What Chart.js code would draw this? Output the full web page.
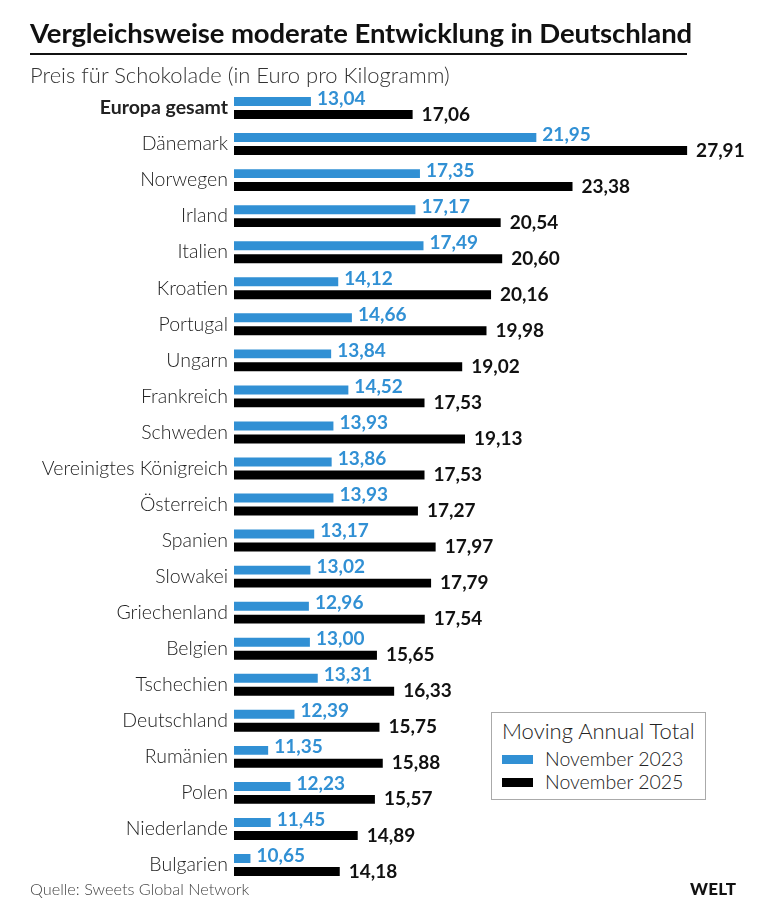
<!DOCTYPE html>
<html>
<head>
<meta charset="utf-8">
<script src="https://cdn.jsdelivr.net/npm/chart.js@4.4.0/dist/chart.umd.min.js"></script>
<style>
  body { margin: 0; background: #fff; font-family: Lato, "Open Sans", sans-serif; }
  #wrap { position: relative; width: 768px; height: 906px; overflow: hidden; }
  #title { position: absolute; left: 30px; top: 16px; font-size: 27.5px; font-weight: 700; color: #111; letter-spacing: -0.1px; }
  #rule { position: absolute; left: 30px; top: 53px; width: 657px; height: 2px; background: #111; }
  #sub { position: absolute; left: 30px; top: 61px; font-size: 22px; font-weight: 300; color: #333; }
  #src { position: absolute; left: 30px; top: 879px; font-size: 16.3px; font-weight: 300; color: #444; }
  #logo { position: absolute; left: 690px; top: 878px; font-size: 17px; font-weight: 900; color: #111; letter-spacing: 0.2px; }
  #legend { position: absolute; left: 491px; top: 712px; width: 213px; height: 86px; border: 1px solid #aaa; background: #fff; }
  #legend .h { position: absolute; left: 10px; top: 4px; font-size: 22px; font-weight: 300; color: #222; }
  #legend .it { position: absolute; left: 10px; font-size: 19.5px; font-weight: 300; color: #222; }
  #legend .sw { display: inline-block; width: 31px; height: 9px; margin-right: 12px; vertical-align: middle; position: relative; top: -2px; }
  canvas { position: absolute; left: 0; top: 0; }
</style>
</head>
<body>
<div id="wrap">
  <canvas id="c" width="768" height="906"></canvas>
  <div id="title">Vergleichsweise moderate Entwicklung in Deutschland</div>
  <div id="rule"></div>
  <div id="sub">Preis für Schokolade (in Euro pro Kilogramm)</div>
  <div id="legend">
    <div class="h">Moving Annual Total</div>
    <div class="it" style="top:34px"><span class="sw" style="background:#3190d4"></span>November 2023</div>
    <div class="it" style="top:57px"><span class="sw" style="background:#000"></span>November 2025</div>
  </div>
  <div id="src">Quelle: Sweets Global Network</div>
  <div id="logo">WELT</div>
</div>
<script>
const countries = ["Europa gesamt","Dänemark","Norwegen","Irland","Italien","Kroatien","Portugal","Ungarn","Frankreich","Schweden","Vereinigtes Königreich","Österreich","Spanien","Slowakei","Griechenland","Belgien","Tschechien","Deutschland","Rumänien","Polen","Niederlande","Bulgarien"];
const nov2023 = [13.04,21.95,17.35,17.17,17.49,14.12,14.66,13.84,14.52,13.93,13.86,13.93,13.17,13.02,12.96,13.00,13.31,12.39,11.35,12.23,11.45,10.65];
const nov2025 = [17.06,27.91,23.38,20.54,20.60,20.16,19.98,19.02,17.53,19.13,17.53,17.27,17.97,17.79,17.54,15.65,16.33,15.75,15.88,15.57,14.89,14.18];

const blue = "#3190d4";

const valueLabels = {
  id: "valueLabels",
  afterDatasetsDraw(chart) {
    const ctx = chart.ctx;
    ctx.save();
    ctx.font = "bold 19px Lato, sans-serif";
    ctx.textBaseline = "middle";
    ctx.textAlign = "left";
    chart.data.datasets.forEach((ds, i) => {
      chart.getDatasetMeta(i).data.forEach((bar, j) => {
        const txt = ds.data[j].toFixed(2).replace(".", ",");
        if (i === 0) {
          ctx.fillStyle = blue;
          ctx.fillText(txt, bar.x + 6, bar.y - 3);
        } else {
          ctx.fillStyle = "#111";
          ctx.fillText(txt, bar.x + 9, bar.y);
        }
      });
    });
    ctx.restore();
  }
};

new Chart(document.getElementById("c"), {
  type: "bar",
  data: {
    labels: countries,
    datasets: [
      { label: "November 2023", data: nov2023, backgroundColor: blue, categoryPercentage: 0.72, barPercentage: 0.69 },
      { label: "November 2025", data: nov2025, backgroundColor: "#000", categoryPercentage: 0.72, barPercentage: 0.69 }
    ]
  },
  options: {
    indexAxis: "y",
    responsive: false,
    animation: false,
    layout: { padding: { top: 90, bottom: 23, left: 0, right: 28 } },
    plugins: { legend: { display: false }, tooltip: { enabled: false } },
    scales: {
      x: { display: false, min: 10, max: 30 },
      y: {
        grid: { display: false, drawTicks: false },
        border: { display: false },
        afterFit(scale) { scale.width = 234; },
        ticks: {
          padding: 6,
          color: "#222",
          font: (c) => ({ family: "Lato, sans-serif", size: 19.5, weight: c.index === 0 ? "bold" : "300" })
        }
      }
    }
  },
  plugins: [valueLabels]
});
</script>
</body>
</html>
